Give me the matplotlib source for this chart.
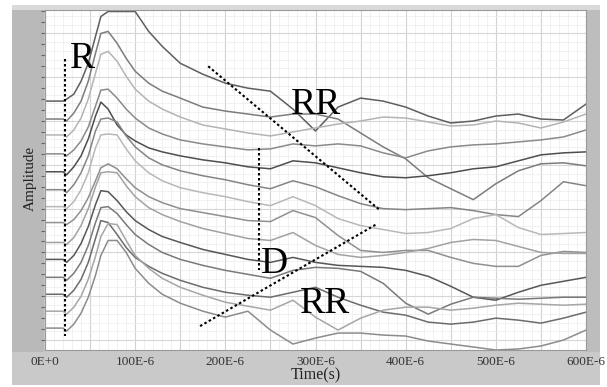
import numpy as np
import matplotlib
matplotlib.use("Agg")
import matplotlib.pyplot as plt
from matplotlib.patches import Rectangle

# sample times (microseconds) shared by all traces
t_us = [0, 20, 24, 32, 40, 48, 56, 62, 70, 80, 90, 100, 115, 130, 150, 175, 200,
        225, 250, 275, 300, 325, 350, 375, 400, 425, 450, 475, 500, 525, 550, 575, 600]

# amplitude (arbitrary units), one trace per sensor, top to bottom
tr01 = [250, 250, 252, 257, 270, 288, 315, 335, 340, 340, 340, 340, 320, 305, 288, 277, 268,
        263, 260, 242, 220, 244, 253, 250, 244, 235, 228, 230, 235, 237, 232, 231, 247]
tr02 = [232, 232, 230, 238, 250, 270, 298, 318, 320, 308, 293, 280, 268, 260, 253, 244, 240,
        237, 234, 237, 237, 232, 218, 204, 192, 173, 162, 151, 167, 180, 187, 188, 185]
tr03 = [216, 216, 214, 221, 233, 252, 278, 297, 300, 290, 275, 262, 250, 242, 234, 226, 222,
        218, 215, 219, 223, 227, 230, 234, 233, 229, 225, 226, 230, 228, 223, 229, 237]
tr04 = [197, 197, 195, 201, 210, 224, 245, 261, 262, 253, 242, 233, 223, 217, 211, 207, 204,
        201, 202, 207, 205, 207, 205, 198, 193, 200, 204, 206, 207, 209, 211, 214, 221]
tr05 = [179, 179, 176, 184, 195, 212, 235, 249, 242, 226, 216, 210, 203, 199, 195, 191, 188,
        184, 182, 190, 188, 183, 178, 174, 173, 175, 178, 182, 184, 190, 196, 198, 199]
tr06 = [161, 161, 158, 166, 178, 195, 220, 232, 233, 229, 215, 204, 193, 186, 180, 175, 171,
        166, 162, 170, 164, 155, 147, 142, 141, 142, 143, 140, 136, 134, 150, 169, 165]
tr07 = [144, 144, 142, 149, 161, 178, 203, 216, 217, 216, 202, 190, 178, 170, 163, 158, 154,
        149, 145, 154, 145, 132, 125, 121, 117, 118, 122, 132, 136, 123, 116, 117, 118]
tr08 = [128, 128, 126, 131, 140, 153, 170, 183, 187, 182, 172, 163, 154, 148, 142, 138, 134,
        130, 129, 140, 133, 115, 100, 98, 100, 100, 93, 87, 84, 84, 95, 99, 98]
tr09 = [108, 108, 106, 113, 125, 142, 164, 178, 179, 178, 165, 154, 143, 136, 129, 122, 117,
        112, 110, 118, 105, 96, 93, 95, 98, 102, 108, 111, 110, 104, 98, 97, 97]
tr10 = [91, 91, 88, 95, 107, 124, 146, 160, 159, 150, 139, 130, 121, 114, 108, 101, 96,
        91, 88, 93, 88, 85, 84, 83, 80, 74, 64, 53, 50, 58, 65, 69, 73]
tr11 = [73, 73, 70, 77, 88, 105, 128, 143, 144, 137, 126, 116, 106, 98, 91, 85, 80,
        76, 72, 80, 83, 82, 79, 67, 47, 36, 46, 53, 52, 51, 52, 53, 53]
tr12 = [56, 56, 53, 60, 71, 88, 112, 130, 128, 116, 103, 93, 84, 77, 70, 63, 58,
        55, 53, 58, 63, 53, 45, 38, 35, 28, 26, 28, 32, 30, 27, 32, 38]
tr13 = [39, 39, 36, 43, 54, 71, 94, 114, 127, 126, 110, 95, 82, 72, 63, 55, 48,
        44, 40, 50, 33, 20, 32, 40, 43, 43, 40, 42, 45, 47, 46, 45, 46]
tr14 = [22, 22, 19, 26, 37, 53, 75, 95, 110, 110, 98, 82, 67, 56, 47, 39, 33,
        39, 20, 6, 12, 17, 17, 15, 14, 9, 6, 3, 0, 1, 4, 10, 20]

traces = [tr01, tr02, tr03, tr04, tr05, tr06, tr07, tr08, tr09, tr10, tr11, tr12, tr13, tr14]
shades = ["#5e5e5e", "#7c7c7c", "#b4b4b4", "#8a8a8a", "#4e4e4e", "#858585", "#b8b8b8",
          "#909090", "#a2a2a2", "#575757", "#7a7a7a", "#6c6c6c", "#a6a6a6", "#8c8c8c"]

xtick_us = [0, 100, 200, 300, 400, 500, 600]
xtick_labels = ["0E+0", "100E-6", "200E-6", "300E-6", "400E-6", "500E-6", "600E-6"]

W, H = 607, 387
fig = plt.figure(figsize=(W / 100, H / 100), dpi=100, facecolor="white")
serif = ["Liberation Serif", "DejaVu Serif"]


def panel(x0, y0, x1, y1, color):
    fig.add_artist(Rectangle((x0 / W, 1 - y1 / H), (x1 - x0) / W, (y1 - y0) / H,
                             transform=fig.transFigure, color=color, zorder=-5, lw=0))


panel(12, 5, 600, 385, "#c9c9c9")
panel(12, 10, 44, 352, "#b9b9b9")
panel(12, 5, 600, 10, "#dadada")
panel(586, 10, 600, 352, "#bdbdbd")

ax = fig.add_axes([45 / W, 37 / H, 541 / W, 340 / H])
ax.set_facecolor("white")
ax.set_xlim(0, 600e-6)
ax.set_ylim(0, 341.5)

# background grid
for v in np.arange(0, 601, 10):
    major = v % 50 == 0
    ax.axvline(v * 1e-6, color="#d2d2d2" if major else "#ececec",
               lw=0.8 if major else 0.5, zorder=0)
for v in np.arange(10, 342, 8.8):
    ax.axhline(v, color="#ececec", lw=0.5, zorder=0)
for v in np.arange(10, 342, 44):
    ax.axhline(v, color="#d6d6d6", lw=0.8, zorder=0)

t = np.array(t_us) * 1e-6
for tr, c in zip(traces, shades):
    ax.plot(t, tr, color=c, lw=1.1, zorder=2)

# annotations
dot = dict(color="black", lw=1.5, ls=(0, (1.2, 1.2)), zorder=3)
ax.plot([22e-6, 22e-6], [292, 14], **dot)
ax.plot([237e-6, 237e-6], [203, 80], **dot)
ax.plot([181e-6, 372e-6], [285, 140], **dot)
ax.plot([172e-6, 367e-6], [24, 126], **dot)

big = dict(fontsize=27, family=serif, ha="center", va="baseline", zorder=4)
ax.text(41e-6, 283, "R", **big)
ax.text(300e-6, 237, "RR", **big)
ax.text(254e-6, 77, "D", **big)
ax.text(311e-6, 37, "RR", **big)

ax.set_xticks(np.array(xtick_us) * 1e-6)
ax.set_xticklabels(xtick_labels, family=serif, fontsize=9.5, color="#333333")
ax.tick_params(axis="x", length=0, pad=4)
ax.set_yticks(np.arange(10, 342, 11))
ax.set_yticklabels([])
ax.tick_params(axis="y", direction="out", length=3, width=0.8, color="#666666")
for s in ax.spines.values():
    s.set_color("#9a9a9a")
    s.set_linewidth(0.8)

fig.text(316 / W, 1 - 375 / H, "Time(s)", family=serif, fontsize=11.5,
         ha="center", va="center", color="#222222")
fig.text(30 / W, 1 - 178 / H, "Amplitude", family=serif, fontsize=11,
         ha="center", va="center", rotation=90, color="#222222")

fig.savefig("out.png", dpi=100, facecolor="white")
